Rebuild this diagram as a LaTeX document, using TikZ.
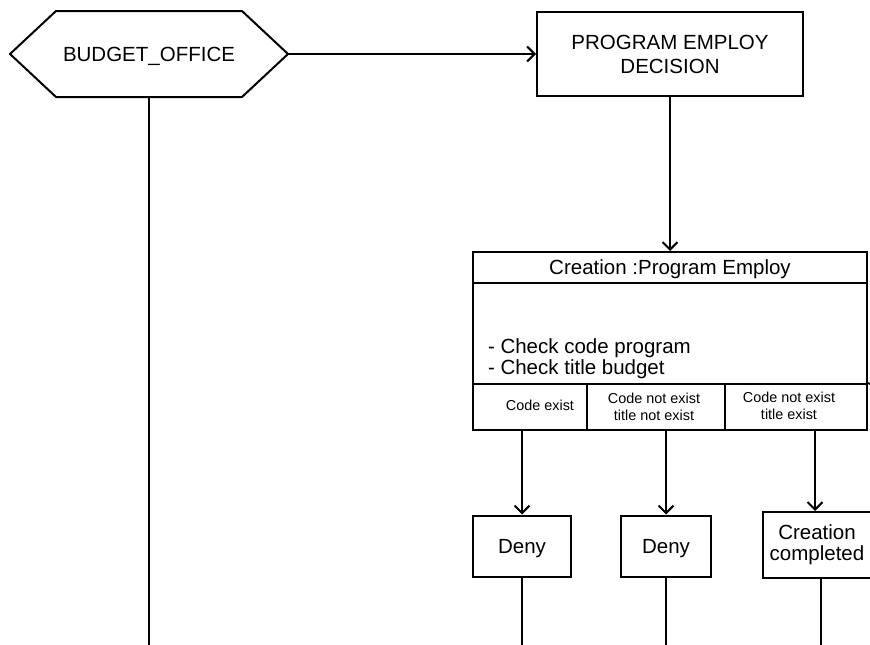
\documentclass[tikz,border=0pt]{standalone}
\usepackage{fontspec}
\setmainfont{Liberation Sans}
\usetikzlibrary{arrows.meta}
\begin{document}
\begin{tikzpicture}[x=1pt,y=-1pt,
  line width=2pt,
  big/.style={font=\fontsize{20.5}{24}\selectfont},
  small/.style={font=\fontsize{14.4}{17}\selectfont},
  cell/.style 2 args={draw, inner sep=0pt, minimum width=#1, minimum height=#2},
  flow/.style={-{Straight Barb[length=7.5pt,width=15pt]}}
]
\useasboundingbox (0,0) rectangle (870,645);
\coordinate (bottom) at (0,650);

% entry hexagon
\node[big, inner sep=0pt, text depth=0pt, minimum width=276pt, minimum height=84pt] (bo) at (149,54) {BUDGET\_OFFICE};
\draw (bo.west) -- ([xshift=46pt]bo.north west) -- ([xshift=-46pt]bo.north east)
  -- (bo.east) -- ([xshift=-46pt]bo.south east) -- ([xshift=46pt]bo.south west) -- cycle;

% decision box
\node[cell={266pt}{84pt}, big, align=center] (pd) at (670,54) {PROGRAM EMPLOY\\DECISION};

% creation table
\node[cell={394pt}{178pt}] (cr) at (670,341) {};
\node[cell={394pt}{31pt}, big, text depth=0pt] (hd) at (670,267.5) {Creation :Program Employ};
\node[big, align=left, anchor=west, inner sep=0pt, font=\fontsize{20.5}{21}\selectfont] (body) at (487,359)
  {- Check code program\\- Check title budget};
\node[cell={114pt}{46pt}] (c1) at (530,407) {};
\node[cell={138pt}{46pt}] (c2) at (656,407) {};
\node[cell={142pt}{46pt}] (c3) at (796,407) {};
\coordinate (rowend) at (870,384);
\draw (c3.north east) -- (rowend);
\node[small] (t1) at (540,405) {Code exist};
\node[small, align=center] (t2) at (654,407) {Code not exist\\title not exist};
\node[small, align=center] (t3) at (789,406) {Code not exist\\title exist};

% outcome boxes
\node[cell={98pt}{61pt}, big, text depth=0pt] (d1) at (522,546) {Deny};
\node[cell={90pt}{61pt}, big, text depth=0pt] (d2) at (666,546) {Deny};
\node[cell={108pt}{66pt}, big, align=center, font=\fontsize{20.5}{21}\selectfont] (d3) at (817,545) {Creation\\completed};

% connectors
\draw[flow] (bo.east) -- (pd.west);
\draw[flow] (pd.south) -- (cr.north);
\draw[flow] (d1.north |- cr.south) -- (d1.north);
\draw[flow] (d2.north |- cr.south) -- (d2.north);
\draw[flow] ([xshift=-2pt]d3.north |- cr.south) -- ([xshift=-2pt]d3.north);

% lifelines
\draw (bo.south) -- (bo.south |- bottom);
\draw (d1.south) -- (d1.south |- bottom);
\draw (d2.south) -- (d2.south |- bottom);
\draw ([xshift=4pt]d3.south) -- ([xshift=4pt]d3.south |- bottom);
\end{tikzpicture}
\end{document}
